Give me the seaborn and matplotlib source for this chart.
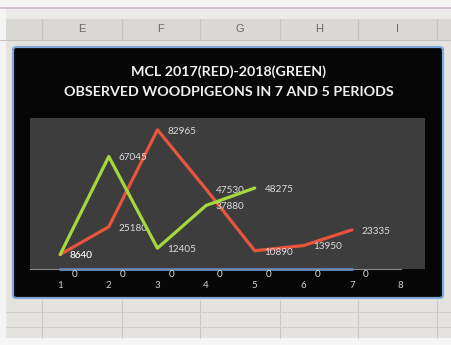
import matplotlib
matplotlib.use("Agg")
import matplotlib.pyplot as plt
import seaborn as sns
import pandas as pd
from matplotlib.patches import Rectangle, FancyBboxPatch
from matplotlib.lines import Line2D

# ---- data ----
periods = [1, 2, 3, 4, 5, 6, 7, 8]
red_periods = [1, 2, 3, 4, 5, 6, 7]
red_2017 = [8640, 25180, 82965, 47530, 10890, 13950, 23335]
green_periods = [1, 2, 3, 4, 5]
green_2018 = [8640, 67045, 12405, 37880, 48275]
blue_periods = [1, 2, 3, 4, 5, 6, 7]
blue_zero = [0, 0, 0, 0, 0, 0, 0]
columns = ["E", "F", "G", "H", "I"]
title_lines = ["MCL 2017(RED)-2018(GREEN)", "OBSERVED WOODPIGEONS IN 7 AND 5 PERIODS"]

sns.set_theme(style="dark")
plt.rcParams['font.family'] = ['Lato', 'DejaVu Sans']

W, H = 452, 345
fig = plt.figure(figsize=(W / 100, H / 100), dpi=100)
fig.patch.set_facecolor("#e4e3df")

def fx(x):
    return x / W

def fy(y):
    return 1 - y / H

def rect(x0, y0, x1, y1, **kw):
    fig.add_artist(Rectangle((fx(x0), fy(y1)), fx(x1) - fx(x0), fy(y0) - fy(y1),
                             transform=fig.transFigure, **kw))

def hline(y, x0, x1, **kw):
    fig.add_artist(Line2D([fx(x0), fx(x1)], [fy(y), fy(y)], transform=fig.transFigure, **kw))

def vline(x, y0, y1, **kw):
    fig.add_artist(Line2D([fx(x), fx(x)], [fy(y0), fy(y1)], transform=fig.transFigure, **kw))

# spreadsheet background
rect(0, 0, W, 7, facecolor="#f4f4f4", edgecolor="none")
hline(7.5, 0, W, color="#cdb8cc", lw=1.2)
rect(0, 9, W, 19, facecolor="#ebeae8", edgecolor="none")
rect(0, 19, W, 40, facecolor="#d9d8d5", edgecolor="none")
hline(40, 0, W, color="#c4c3c0", lw=0.8)
rect(0, 0, 6, H, facecolor="#f4f4f4", edgecolor="none")
rect(0, 338, W, H, facecolor="#f6f6f6", edgecolor="none")
col_x = [42, 122, 200, 280, 358, 437]
for cx in col_x:
    vline(cx, 19, 40, color="#c4c3c0", lw=0.8)
    vline(cx, 300, 338, color="#c9c8c5", lw=0.7)
for i, c in enumerate(columns):
    fig.text(fx((col_x[i] + col_x[i + 1]) / 2), fy(29), c, ha="center", va="center",
             fontsize=8, color="#6a6a6a", family="Liberation Sans")
for yy in [312, 327]:
    hline(yy, 6, W, color="#cfcecb", lw=0.7)

# chart frame
fig.add_artist(FancyBboxPatch((fx(13), fy(298)), fx(443) - fx(13), fy(47) - fy(298),
                              boxstyle="round,pad=0,rounding_size=0.008",
                              transform=fig.transFigure, facecolor="#060606",
                              edgecolor="#7fa9d8", lw=1.6))

for i, t in enumerate(title_lines):
    fig.text(fx(229), fy(72 + 20 * i), t, ha="center", va="center", fontsize=10.3,
             fontweight="bold", color="#f0f0f0", zorder=6)

# plot area
ax = fig.add_axes([fx(30), fy(269), fx(425) - fx(30), fy(118) - fy(269)])
ax.set_zorder(5)
ax.set_facecolor("#3d3d3d")

df_red = pd.DataFrame({"period": red_periods, "count": red_2017})
df_green = pd.DataFrame({"period": green_periods, "count": green_2018})
df_blue = pd.DataFrame({"period": blue_periods, "count": blue_zero})

sns.lineplot(data=df_blue, x="period", y="count", ax=ax, color="#4b79bd", lw=2.2,
             clip_on=False, zorder=2)
sns.lineplot(data=df_red, x="period", y="count", ax=ax, color="#e9553c", lw=2.3, zorder=3)
sns.lineplot(data=df_green, x="period", y="count", ax=ax, color="#a6d83c", lw=2.3, zorder=4)

lab_kw = dict(fontsize=7.2, color="#dcdcdc", va="center", ha="left",
              textcoords="offset points", family="Lato")
for xs, ys in [(red_periods, red_2017), (green_periods, green_2018)]:
    for x, y in zip(xs, ys):
        ax.annotate(f"{y}", (x, y), xytext=(7, -1), **lab_kw)
for x, y in zip(blue_periods, blue_zero):
    ax.annotate(f"{y}", (x, y), xytext=(8, -4), annotation_clip=False, **lab_kw)

ax.set_xlim(0.38, 8.5)
ax.set_ylim(0, 90000)
ax.set_xticks(periods)
ax.set_xticklabels([str(p) for p in periods])
ax.tick_params(axis="x", colors="#cfcfcf", labelsize=7, length=0, pad=9)
ax.set_yticks([])
ax.set_xlabel("")
ax.set_ylabel("")
ax.grid(False)
for s in ["top", "left", "right"]:
    ax.spines[s].set_visible(False)
ax.spines["bottom"].set_color("#8a8a8a")
ax.spines["bottom"].set_linewidth(0.8)
ax.spines["bottom"].set_bounds(0.38, 8.0)

fig.savefig("out.png", dpi=100, facecolor=fig.get_facecolor())
